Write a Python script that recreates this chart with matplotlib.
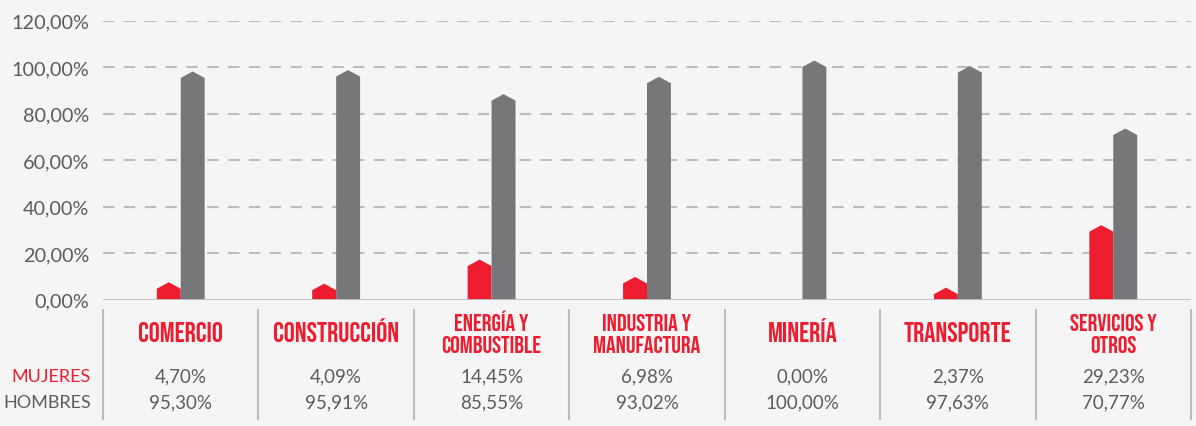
import matplotlib
matplotlib.use("Agg")
import matplotlib.pyplot as plt
from matplotlib import font_manager as fm
from matplotlib.patches import Polygon
from matplotlib.transforms import blended_transform_factory
from matplotlib.ticker import FuncFormatter, FixedLocator

# ---------------- data ----------------
categories = ["COMERCIO", "CONSTRUCCIÓN", "ENERGÍA Y\nCOMBUSTIBLE",
              "INDUSTRIA Y\nMANUFACTURA", "MINERÍA", "TRANSPORTE",
              "SERVICIOS Y\nOTROS"]
mujeres = [4.70, 4.09, 14.45, 6.98, 0.00, 2.37, 29.23]
hombres = [95.30, 95.91, 85.55, 93.02, 100.00, 97.63, 70.77]
row_labels = ["MUJERES", "HOMBRES"]
y_ticks = [0, 20, 40, 60, 80, 100, 120]

# ---------------- style ----------------
RED = "#ed1c2e"
GRAY_BAR = "#777779"
TXT = "#5c5c5c"
LINE = "#bdbdbd"
BG = "#f5f5f5"

names = {f.name for f in fm.fontManager.ttflist}
cond_font = None
for n in ["Bebas Neue", "Oswald", "Roboto Condensed", "Liberation Sans Narrow",
          "Open Sans Condensed", "Arial Narrow"]:
    if n in names:
        cond_font = n
        break
if cond_font is None:
    has_dv_cond = any(f.name == "DejaVu Sans" and f.stretch == "condensed"
                      for f in fm.fontManager.ttflist)
    if has_dv_cond:
        cond_kw = dict(family="DejaVu Sans", fontstretch="condensed")
        fs1, fs2 = 16, 14.5
    else:
        cond_kw = dict(family="Roboto")
        fs1, fs2 = 15, 13.5
else:
    cond_kw = dict(family=cond_font)
    fs1, fs2 = 20, 17.3

body_font = "Lato" if "Lato" in names else "DejaVu Sans"

W, H = 1196, 427
fig = plt.figure(figsize=(W / 100, H / 100), dpi=100, facecolor=BG)

ax_left, ax_right = 103 / W, 1191 / W
ax_bottom, ax_top = (H - 300.7) / H, (H - 21.5) / H
ax = fig.add_axes([ax_left, ax_bottom, ax_right - ax_left, ax_top - ax_bottom])
ax.set_facecolor("none")

n = len(categories)
ax.set_xlim(0, n)
ax.set_ylim(0, 120)

# grid
ax.yaxis.set_major_locator(FixedLocator(y_ticks))
ax.yaxis.set_major_formatter(FuncFormatter(lambda v, p: f"{v:.2f}".replace(".", ",") + "%"))
for t in y_ticks[1:]:
    ax.axhline(t, color=LINE, lw=1.5, dashes=(5.5, 4.5), zorder=0)
ax.axhline(0, color=LINE, lw=2, zorder=3)
for s in ax.spines.values():
    s.set_visible(False)
ax.set_xticks([])
ax.tick_params(axis="y", length=0, pad=10, labelsize=14.3, labelcolor=TXT)
for lab in ax.get_yticklabels():
    lab.set_fontfamily(body_font)

# bars with pointed tops
bw = 0.154
px_per_unit = (300.7 - 21.5) / 120.0
tip = 6.5 / px_per_unit


def house(x0, x1, v, color):
    if v <= 0:
        return
    pts = [(x0, 0), (x0, v), ((x0 + x1) / 2, v + tip), (x1, v), (x1, 0)]
    ax.add_patch(Polygon(pts, closed=True, facecolor=color, edgecolor="none", zorder=2))


for i, (m, h) in enumerate(zip(mujeres, hombres)):
    c = i + 0.5
    house(c - bw, c, m, RED)
    house(c, c + bw, h, GRAY_BAR)

# table below
tr = blended_transform_factory(ax.transData, fig.transFigure)


def fy(px):
    return 1 - px / H


for i in range(n + 1):
    ax.plot([i, i], [fy(311), fy(420)], transform=tr, color=LINE, lw=1.5,
            clip_on=False, zorder=1)

for i, cat in enumerate(categories):
    lines = cat.split("\n")
    if len(lines) == 1:
        ys, fs = [342], fs1
    else:
        ys, fs = [331, 353], fs2
    for ln, yy in zip(lines, ys):
        ax.text(i + 0.5, fy(yy), ln, transform=tr, ha="center", va="baseline",
                color=RED, fontweight="bold", fontsize=fs, **cond_kw)


def fmt(v):
    return f"{v:.2f}".replace(".", ",") + "%"


for i, (m, h) in enumerate(zip(mujeres, hombres)):
    ax.text(i + 0.5, fy(382), fmt(m), transform=tr, ha="center", va="baseline",
            color=TXT, fontsize=13.5, family=body_font)
    ax.text(i + 0.5, fy(408), fmt(h), transform=tr, ha="center", va="baseline",
            color=TXT, fontsize=13.5, family=body_font)

fig.text(91 / W, fy(382), row_labels[0], ha="right", va="baseline", color=RED,
         fontsize=13, family=body_font)
fig.text(91 / W, fy(408), row_labels[1], ha="right", va="baseline", color=TXT,
         fontsize=13, family=body_font)

fig.savefig("out.png", dpi=100, facecolor=BG)
